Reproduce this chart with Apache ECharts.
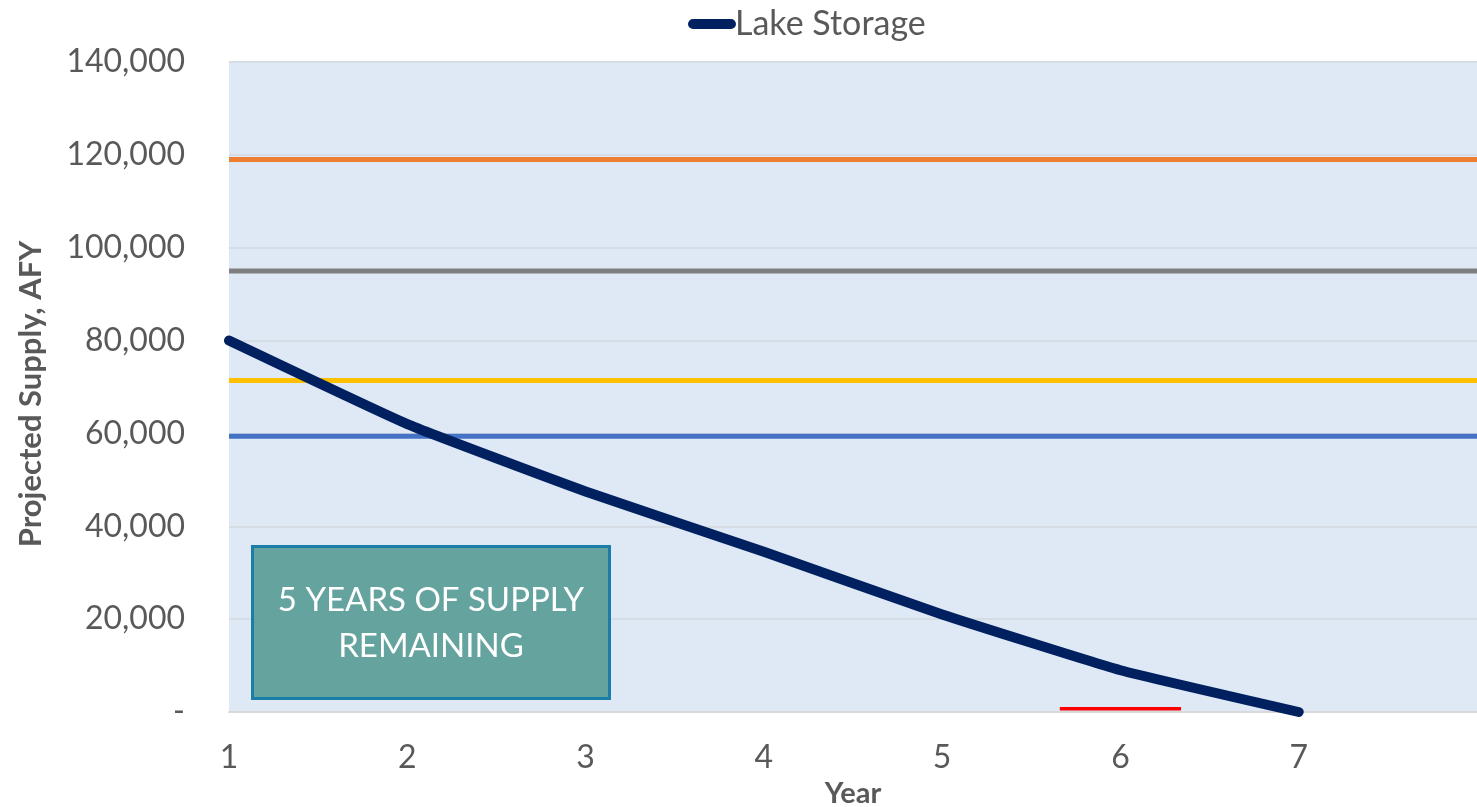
<!DOCTYPE html>
<html>
<head>
<meta charset="utf-8">
<title>Lake Storage – Projected Supply</title>
<script src="https://cdn.jsdelivr.net/npm/echarts@6/dist/echarts.min.js"></script>
<style>
  html, body { margin: 0; padding: 0; background: #ffffff; }
  #chart { width: 1477px; height: 807px; }
</style>
</head>
<body>
<div id="chart"></div>
<script>
// Projected lake storage by year (AFY)
const years = [1, 2, 3, 4, 5, 6, 7];
const lakeStorage = [80000, 62000, 47500, 34500, 21000, 9000, 0];

// Flat supply/demand reference levels (AFY)
const orangeLevel = 119000;
const grayLevel = 95000;
const yellowLevel = 71400;
const blueLevel = 59400;

// Short red marker near the bottom around year 6
const redMarkX = [5.66, 6.34];
const redMarkValue = 700;

// Axis ranges
const xMin = 1, xMax = 8, xStep = 1;
const yMin = 0, yMax = 140000, yStep = 20000;

const annotationLines = ['5 YEARS OF SUPPLY', 'REMAINING'];

const textGray = '#595959';
const baseFont = 'Lato, "Open Sans", sans-serif';

function flatLine(v) {
  return [[xMin, v], [xMax, v]];
}

const chart = echarts.init(document.getElementById('chart'), null, { renderer: 'canvas' });

const boxW = 357, boxH = 152;

const option = {
  animation: false,
  textStyle: { fontFamily: baseFont },
  legend: {
    data: [{
      name: 'Lake Storage',
      icon: 'path://M5,0 H42 A5,5 0 0 1 42,10 H5 A5,5 0 0 1 5,0 Z'
    }],
    left: 683,
    top: 2,
    itemWidth: 48,
    itemHeight: 11,
    textStyle: { color: textGray, fontSize: 34, fontFamily: baseFont, padding: [0, 0, 0, -6] }
  },
  grid: {
    left: 229,
    right: 0,
    top: 62,
    bottom: 95,
    outerBoundsMode: 'none',
    containLabel: false,
    show: true,
    backgroundColor: '#dee9f5',
    borderWidth: 0
  },
  xAxis: {
    type: 'value',
    min: xMin,
    max: xMax,
    interval: xStep,
    name: 'Year',
    nameLocation: 'middle',
    nameGap: 52,
    nameTextStyle: { color: textGray, fontSize: 29, fontWeight: 'bold', fontFamily: baseFont },
    axisLine: { show: true, lineStyle: { color: '#d9d9d9', width: 2 } },
    axisTick: { show: false },
    splitLine: { show: false },
    axisLabel: {
      color: textGray,
      fontSize: 32,
      margin: 30,
      showMaxLabel: false,
      formatter: v => (v >= xMax ? '' : String(v))
    }
  },
  yAxis: {
    type: 'value',
    min: yMin,
    max: yMax,
    interval: yStep,
    name: 'Projected Supply, AFY',
    nameLocation: 'middle',
    nameGap: 183,
    nameTextStyle: { color: textGray, fontSize: 31, fontWeight: 'bold', fontFamily: baseFont, padding: [0, 0, 0, -14] },
    axisLine: { show: false },
    axisTick: { show: false },
    splitLine: { show: true, lineStyle: { color: '#d6dce3', width: 2 } },
    axisLabel: {
      color: textGray,
      fontSize: 32,
      margin: 44,
      formatter: v => (v === 0 ? '-' : v.toLocaleString('en-US'))
    }
  },
  series: [
    {
      name: 'Level A',
      type: 'line',
      data: flatLine(orangeLevel),
      showSymbol: false,
      lineStyle: { color: '#ed7d31', width: 5 },
      itemStyle: { color: '#ed7d31' },
      silent: true
    },
    {
      name: 'Level B',
      type: 'line',
      data: flatLine(grayLevel),
      showSymbol: false,
      lineStyle: { color: '#7f7f7f', width: 5 },
      itemStyle: { color: '#7f7f7f' },
      silent: true
    },
    {
      name: 'Level C',
      type: 'line',
      data: flatLine(yellowLevel),
      showSymbol: false,
      lineStyle: { color: '#ffc000', width: 5 },
      itemStyle: { color: '#ffc000' },
      silent: true
    },
    {
      name: 'Level D',
      type: 'line',
      data: flatLine(blueLevel),
      showSymbol: false,
      lineStyle: { color: '#4472c4', width: 5 },
      itemStyle: { color: '#4472c4' },
      silent: true
    },
    {
      name: 'Marker',
      type: 'line',
      data: redMarkX.map(x => [x, redMarkValue]),
      showSymbol: false,
      lineStyle: { color: '#ff0000', width: 3.5 },
      itemStyle: { color: '#ff0000' },
      silent: true
    },
    {
      name: 'Lake Storage',
      type: 'line',
      data: years.map((y, i) => [y, lakeStorage[i]]),
      showSymbol: false,
      smooth: 0.12,
      lineStyle: { color: '#002060', width: 10, cap: 'round', join: 'round' },
      itemStyle: { color: '#002060' },
      z: 5
    }
  ],
  graphic: [
    {
      type: 'group',
      left: 251,
      top: 545,
      z: 100,
      children: [
        {
          type: 'rect',
          z: 100,
          shape: { x: 0, y: 0, width: boxW, height: boxH },
          style: { fill: '#64a39e', stroke: '#1a7ea8', lineWidth: 3 }
        },
        {
          type: 'text',
          z: 101,
          x: boxW / 2,
          y: boxH / 2 + 1,
          style: {
            text: annotationLines.join('\n'),
            fill: '#ffffff',
            font: '400 33px ' + baseFont,
            align: 'center',
            verticalAlign: 'middle',
            lineHeight: 46
          }
        }
      ]
    }
  ]
};

chart.setOption(option);
</script>
</body>
</html>
